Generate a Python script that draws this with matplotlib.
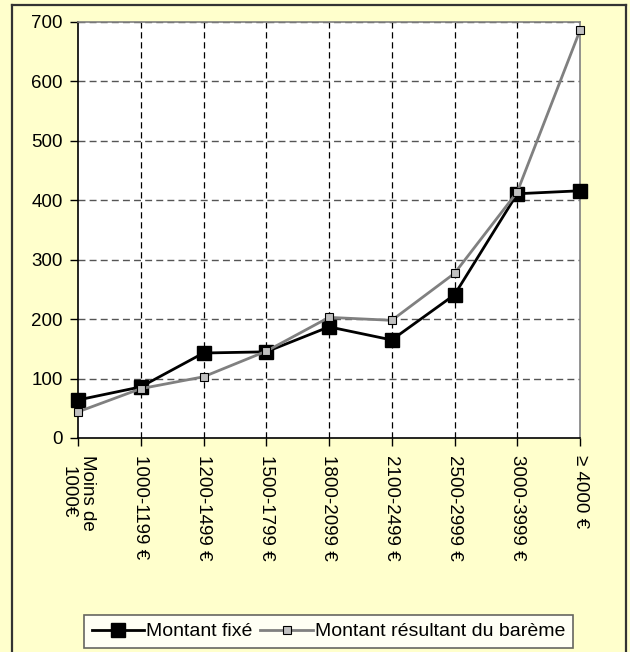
import matplotlib
matplotlib.use("Agg")
import matplotlib.pyplot as plt
from matplotlib.lines import Line2D

plt.rcParams['font.family'] = ['Liberation Sans', 'DejaVu Sans']

categories = ["Moins de\n1000€", "1000-1199 €", "1200-1499 €", "1500-1799 €",
              "1800-2099 €", "2100-2499 €", "2500-2999 €", "3000-3999 €", "≥ 4000 €"]
montant_fixe = [64, 86, 143, 145, 187, 165, 241, 411, 416]
montant_bareme = [44, 83, 103, 146, 203, 198, 277, 414, 686]
y_ticks = [0, 100, 200, 300, 400, 500, 600, 700]

W, H = 630, 652
fig = plt.figure(figsize=(W / 100, H / 100), dpi=100)
bg = '#FFFFCC'
fig.patch.set_facecolor(bg)

# outer chart border (bottom runs off the image)
fig.add_artist(Line2D([11.5 / W, 11.5 / W], [0, 1 - 5 / H], transform=fig.transFigure, color='#333333', lw=1.6))
fig.add_artist(Line2D([625.5 / W, 625.5 / W], [0, 1 - 5 / H], transform=fig.transFigure, color='#333333', lw=1.6))
fig.add_artist(Line2D([11.5 / W, 625.5 / W], [1 - 5 / H, 1 - 5 / H], transform=fig.transFigure, color='#333333', lw=1.6))

left, right, top, bottom = 78, 580, 22, 438
ax = fig.add_axes([left / W, 1 - bottom / H, (right - left) / W, (bottom - top) / H])
ax.set_facecolor('white')

x = list(range(len(categories)))
ax.set_xlim(0, len(categories) - 1)
ax.set_ylim(0, 700)

for yv in y_ticks[1:]:
    ax.axhline(yv, color='#555555', lw=1.0, dashes=(5, 3), zorder=1)
for xv in x[1:-1]:
    ax.axvline(xv, color='black', lw=0.9, dashes=(5, 3), zorder=1)

l_fixe, = ax.plot(x, montant_fixe, color='black', lw=2.0, marker='s', markersize=10.5,
                  markerfacecolor='black', markeredgecolor='black',
                  clip_on=False, zorder=3, label='Montant fixé')
l_bar, = ax.plot(x, montant_bareme, color='#808080', lw=2.0, marker='s', markersize=5.5,
                 markerfacecolor='#C0C0C0', markeredgecolor='black', markeredgewidth=0.8,
                 clip_on=False, zorder=5, label='Montant résultant du barème')

ax.set_yticks(y_ticks)
ax.set_xticks(x)
ax.set_xticklabels(categories, rotation=-90, va='top', ha='center', multialignment='center')
ax.tick_params(axis='both', direction='out', length=6, width=1, color='black', labelsize=13.5)
ax.tick_params(axis='x', pad=6)
ax.tick_params(axis='y', pad=5)

for s in ('left', 'bottom'):
    ax.spines[s].set_color('black')
    ax.spines[s].set_linewidth(1.2)
for s in ('top', 'right'):
    ax.spines[s].set_color('#808080')
    ax.spines[s].set_linewidth(1.2)

leg = fig.legend([l_fixe, l_bar], [l_fixe.get_label(), l_bar.get_label()], loc='center',
                 bbox_to_anchor=(328.5 / W, 1 - 631.5 / H),
                 ncol=2, frameon=True, fancybox=False, fontsize=14, handlelength=2.7,
                 handletextpad=0.1, columnspacing=0.4, borderpad=0.4, borderaxespad=0)
leg.get_frame().set_edgecolor('#404040')
leg.get_frame().set_linewidth(1.2)
leg.get_frame().set_facecolor('white')

fig.savefig('out.png', dpi=100, facecolor=bg)
